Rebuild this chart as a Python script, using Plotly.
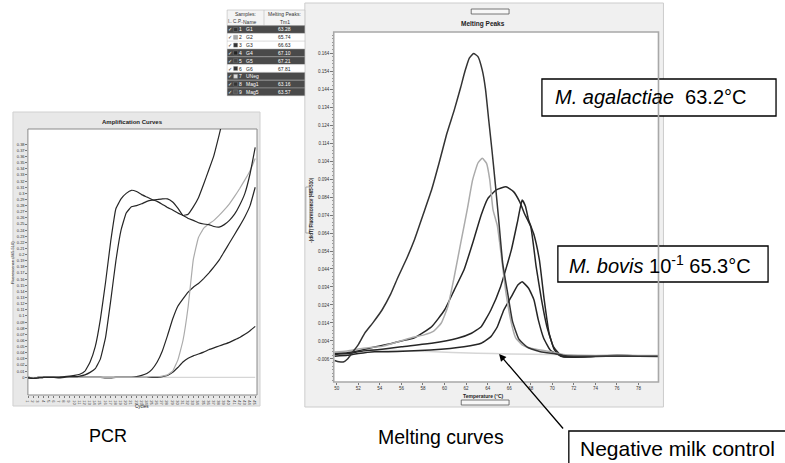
import plotly.graph_objects as go

W, H = 785, 463

# ---------------- Amplification curves (PCR) ----------------
cycles = list(range(1, 46))
amp_s1 = [-0.001, -0.002, -0.001, 0, 0, 0, 0, 0.001, 0.002, 0.003,
          0.005, 0.010, 0.025, 0.050, 0.095, 0.155, 0.222, 0.275, 0.291, 0.300,
          0.305, 0.303, 0.298, 0.294, 0.290, 0.287, 0.282, 0.277, 0.273, 0.268,
          0.264, 0.259, 0.256, 0.252, 0.250, 0.249, 0.246, 0.245, 0.249, 0.256,
          0.266, 0.281, 0.300, 0.332, 0.375]
amp_s2 = [-0.001, -0.002, -0.001, 0, 0, 0, 0, 0, 0.001, 0.001,
          0.002, 0.004, 0.008, 0.014, 0.030, 0.065, 0.125, 0.190, 0.240, 0.268,
          0.278, 0.280, 0.283, 0.287, 0.289, 0.290, 0.291, 0.291, 0.286, 0.276,
          0.264, 0.266, 0.278, 0.293, 0.315, 0.338, 0.362, 0.395, 0.430]
amp_s3 = [0, -0.001, 0, 0, 0, 0, -0.001, 0, 0, 0,
          0, 0, 0, 0, 0, -0.001, -0.001, 0, 0, 0,
          0, 0.001, 0.003, 0.006, 0.013, 0.025, 0.043, 0.068, 0.095, 0.116,
          0.128, 0.139, 0.147, 0.153, 0.161, 0.170, 0.180, 0.191, 0.205, 0.219,
          0.233, 0.247, 0.262, 0.280, 0.310]
amp_gray = [0, -0.001, 0, 0, 0, 0, 0, 0, 0, 0,
            0, 0, 0, 0, 0, 0, 0, 0, 0, 0,
            0, 0, 0, 0, 0.001, 0.001, 0.002, 0.004, 0.010, 0.028,
            0.060, 0.115, 0.192, 0.228, 0.243, 0.250, 0.256, 0.264, 0.273, 0.283,
            0.295, 0.308, 0.322, 0.337, 0.357]
amp_s4 = [0, -0.001, 0, 0, 0, 0, 0, 0, 0, 0,
          0, 0, 0, 0, 0, 0, 0, 0, 0, 0,
          0, 0, 0, 0, 0, 0, 0.001, 0.003, 0.008, 0.016,
          0.025, 0.031, 0.035, 0.038, 0.041, 0.045, 0.048, 0.051, 0.054, 0.057,
          0.061, 0.065, 0.070, 0.076, 0.083]
amp_neg = [0.0] * 45

amp_ytick_text = ["0", "0.01", "0.02", "0.03", "0.04", "0.05", "0.06", "0.07", "0.08", "0.09",
                  "0.1", "0.11", "0.12", "0.13", "0.14", "0.15", "0.16", "0.17", "0.18", "0.19",
                  "0.2", "0.21", "0.22", "0.23", "0.24", "0.25", "0.26", "0.27", "0.28", "0.29",
                  "0.3", "0.31", "0.32", "0.33", "0.34", "0.35", "0.36", "0.37", "0.38"]

# ---------------- Melting peaks ----------------
temp_a = [49.8, 50.2, 50.6, 51.0, 51.5, 52.0, 52.6, 53.4, 54.2, 55.0, 55.7, 56.5, 57.2, 58.0,
          58.8, 59.5, 60.2, 60.9, 61.5, 61.9, 62.3, 62.7, 63.1, 63.5, 63.8, 64.1, 64.4, 64.7,
          65.0, 65.4, 65.9, 66.3, 66.9, 67.7, 68.9, 70.4, 71.0, 72.0, 74.0, 76.0, 78.0, 79.9]
melt_a = [-0.0068, -0.0075, -0.0077, -0.0060, -0.0020, 0.0020, 0.0084, 0.0145, 0.0212, 0.0300,
          0.0397, 0.0500, 0.0601, 0.0740, 0.0880, 0.1030, 0.1190, 0.1323, 0.1450, 0.1540,
          0.1612, 0.1638, 0.1620, 0.1545, 0.1440, 0.1268, 0.1100, 0.0920, 0.0730, 0.0470,
          0.0290, 0.0150, 0.0050, 0.0005, -0.0020, -0.0032, -0.0040, -0.0045, -0.0045,
          -0.0043, -0.0045, -0.0045]

temp_b = [49.8, 51.0, 52.0, 53.0, 54.2, 55.7, 57.2, 58.1, 59.0, 59.7, 60.3, 60.9, 61.5, 62.1,
          62.6, 63.1, 63.5, 63.9, 64.2, 64.5, 64.9, 65.2, 65.7, 66.2, 66.6, 67.2, 68.0, 69.8,
          71.0, 72.0, 74.0, 76.0, 78.0, 79.9]
melt_b = [-0.0022, -0.0015, -0.0005, 0.0003, 0.0010, 0.0036, 0.0062, 0.0074, 0.0095, 0.0140,
          0.0230, 0.0397, 0.0584, 0.0768, 0.0934, 0.1029, 0.1055, 0.1027, 0.0934, 0.0768,
          0.0680, 0.0546, 0.0307, 0.0140, 0.0057, 0.0018, 0.0000, -0.0019, -0.0035, -0.0040,
          -0.0042, -0.0040, -0.0042, -0.0042]

temp_c = [49.8, 51.0, 52.0, 53.0, 54.0, 55.0, 56.0, 57.2, 58.8, 60.0, 60.9, 61.8, 62.7, 63.4,
          64.0, 64.8, 65.7, 66.4, 67.0, 67.4, 68.0, 68.5, 69.0, 69.5, 70.1, 70.6, 71.0, 72.0,
          74.0, 76.0, 78.0, 79.9]
melt_c = [-0.0030, -0.0025, -0.0015, 0.0000, 0.0012, 0.0025, 0.0040, 0.0057, 0.0119, 0.0212,
          0.0323, 0.0434, 0.0601, 0.0740, 0.0830, 0.0880, 0.0897, 0.0870, 0.0810, 0.0750,
          0.0675, 0.0453, 0.0268, 0.0119, 0.0008, -0.0028, -0.0045, -0.0048, -0.0045, -0.0042,
          -0.0044, -0.0045]

temp_d = [49.8, 51.0, 52.5, 54.2, 56.0, 58.8, 61.2, 62.5, 63.4, 64.3, 65.2, 66.2, 66.8, 67.2,
          67.5, 67.8, 68.3, 68.8, 69.25, 69.7, 70.2, 70.8, 72.0, 74.0, 76.0, 78.0, 79.9]
melt_d = [-0.0035, -0.0030, -0.0015, -0.0006, 0.0008, 0.0027, 0.0055, 0.0083, 0.0119, 0.0212,
          0.0342, 0.0546, 0.0712, 0.0823, 0.0790, 0.0712, 0.0630, 0.0490, 0.0268, 0.0083,
          -0.0010, -0.0045, -0.0048, -0.0045, -0.0040, -0.0043, -0.0045]

temp_f = [49.8, 51.0, 52.0, 53.5, 55.6, 58.7, 61.8, 63.4, 64.3, 64.9, 65.5, 66.2, 66.8, 67.2,
          67.8, 68.3, 68.7, 69.2, 69.8, 70.4, 71.0, 72.0, 74.0, 76.0, 78.0, 79.9]
melt_f = [-0.0045, -0.0040, -0.0030, -0.0020, -0.0019, -0.0010, 0.0008, 0.0027, 0.0064, 0.0119,
          0.0212, 0.0286, 0.0351, 0.0369, 0.0333, 0.0268, 0.0157, 0.0055, -0.0010, -0.0032,
          -0.0048, -0.0050, -0.0046, -0.0044, -0.0045, -0.0046]

temp_neg = [49.8, 54.0, 58.5, 63.0, 66.0, 70.0, 74.0, 79.9]
melt_neg = [-0.0020, -0.0010, -0.0019, -0.0028, -0.0032, -0.0035, -0.0040, -0.0040]

melt_xtick_vals = [50, 52, 54, 56, 58, 60, 62, 64, 66, 68, 70, 72, 74, 76, 78]
melt_ytick_text = ["-0.006", "0.004", "0.014", "0.024", "0.034", "0.044", "0.054", "0.064",
                   "0.074", "0.084", "0.094", "0.104", "0.114", "0.124", "0.134", "0.144",
                   "0.154", "0.164"]

# ---------------- Sample table ----------------
sample_num = ["1", "2", "3", "4", "5", "6", "7", "8", "9"]
sample_name = ["G1", "G2", "G3", "G4", "G5", "G6", "UNeg", "Mag1", "Mag5"]
sample_tm = ["63.28", "65.74", "66.63", "67.10", "67.21", "67.81", "", "63.16", "63.57"]
sample_sel = [True, False, False, True, True, False, True, True, True]
sample_swatch = ["#333333", "#aaaaaa", "#333333", "#222222", "#444444", "#333333",
                 "#dddddd", "#333333", "#555555"]

DARK = "#262626"
GRAY = "#ababab"
NEG = "#d6d6d6"
FONT = "Liberation Sans, Arial, sans-serif"


def X(px):
    return px / W


def Y(py):
    return 1 - py / H


fig = go.Figure()

amp_series = [(amp_neg, NEG), (amp_s4, DARK), (amp_s3, DARK),
              (amp_gray, GRAY), (amp_s1, DARK), (amp_s2, DARK)]
for vals, col in amp_series:
    fig.add_trace(go.Scatter(x=cycles[:len(vals)], y=vals, mode="lines",
                             line=dict(color=col, width=1.2, shape="spline", smoothing=0.3),
                             xaxis="x", yaxis="y", hoverinfo="skip"))

melt_series = [(temp_neg, melt_neg, NEG), (temp_f, melt_f, DARK), (temp_d, melt_d, DARK),
               (temp_c, melt_c, DARK), (temp_b, melt_b, GRAY), (temp_a, melt_a, "#333333")]
for tx, ty, col in melt_series:
    fig.add_trace(go.Scatter(x=tx, y=ty, mode="lines",
                             line=dict(color=col, width=1.5, shape="spline", smoothing=0.4),
                             xaxis="x2", yaxis="y2", hoverinfo="skip"))

amp_tickfont = dict(family=FONT, size=4, color="#333")
melt_tickfont = dict(family=FONT, size=4.5, color="#333")
fig.update_layout(
    width=W, height=H, margin=dict(l=0, r=0, t=0, b=0),
    paper_bgcolor="white", plot_bgcolor="rgba(0,0,0,0)", showlegend=False,
    font=dict(family=FONT),
    xaxis=dict(domain=[X(25), X(255)], range=[0.95, 45.35], anchor="y",
               tickvals=cycles, ticktext=[str(c) for c in cycles], tickfont=amp_tickfont,
               ticks="outside", ticklen=1.5, tickcolor="#777", showgrid=False,
               zeroline=False, showline=False, fixedrange=True),
    yaxis=dict(domain=[Y(395), Y(129)], range=[-0.0289, 0.405], anchor="x",
               tickvals=[float(t) for t in amp_ytick_text], ticktext=amp_ytick_text,
               tickfont=amp_tickfont, ticks="outside", ticklen=1.5, tickcolor="#777",
               showgrid=False, zeroline=False, showline=False, fixedrange=True),
    xaxis2=dict(domain=[X(332), X(658)], range=[49.72, 79.85], anchor="y2",
                tickvals=melt_xtick_vals, ticktext=[str(v) for v in melt_xtick_vals],
                tickfont=melt_tickfont, ticks="outside",
                ticklen=1.5, tickcolor="#777", showgrid=False, zeroline=False,
                showline=False, fixedrange=True),
    yaxis2=dict(domain=[Y(382), Y(32)], range=[-0.0188, 0.1757], anchor="x2",
                tickvals=[float(t) for t in melt_ytick_text], ticktext=melt_ytick_text,
                tickfont=melt_tickfont, ticks="outside",
                ticklen=2.5, tickcolor="#777",
                minor=dict(ticks="outside", ticklen=1.2, dtick=0.002, tick0=-0.006,
                           tickcolor="#999"),
                showgrid=False, zeroline=False, showline=False, fixedrange=True),
)

shapes = []


def rect(x0, y0, x1, y1, fill=None, line=None, lw=1, layer="above"):
    shapes.append(dict(type="rect", xref="paper", yref="paper",
                       x0=X(x0), x1=X(x1), y0=Y(y1), y1=Y(y0),
                       fillcolor=fill if fill else "rgba(0,0,0,0)",
                       line=dict(color=line if line else "rgba(0,0,0,0)", width=lw if line else 0),
                       layer=layer))


rect(10, 112, 258, 406, fill="#e8e8e8", line="#d0d0d0", layer="below")
rect(25, 129, 255, 395, fill="white", line="#8a8a8a", lw=1, layer="below")
rect(303, 3, 663, 407, fill="#f0f0f0", line="#cccccc", layer="below")
rect(332, 32, 658, 382, fill="white", layer="below")

rect(470, 9, 508, 14, fill="#f7f7f7", line="#555", lw=0.8)
rect(460, 400, 508, 405, fill="#f7f7f7", line="#555", lw=0.8)
rect(304, 187, 308, 233, fill="#f7f7f7", line="#777", lw=0.6)

annotations = []


def text(x, y, s, size, color="black", anchor="center", bold=False, angle=0, family=FONT):
    if not s:
        return
    annotations.append(dict(xref="paper", yref="paper", x=X(x), y=Y(y),
                            text=("<b>%s</b>" % s) if bold else s, showarrow=False,
                            xanchor=anchor, yanchor="middle", textangle=angle,
                            font=dict(family=family, size=size, color=color)))


row_h = 7.8
head_top = 10
rect(225, head_top, 303, head_top + 2 * row_h, fill="#f4f4f4", line="#bbbbbb", lw=0.6)
shapes.append(dict(type="line", xref="paper", yref="paper", x0=X(262), x1=X(262),
                   y0=Y(head_top + 2 * row_h + 9 * row_h), y1=Y(head_top),
                   line=dict(color="#bbbbbb", width=0.6)))
text(243, head_top + row_h / 2, "Samples:", 5, "#333")
text(283, head_top + row_h / 2, "Melting Peaks:", 5, "#333")
text(228, head_top + 1.5 * row_h, "I..", 4.5, "#333")
text(233.5, head_top + 1.5 * row_h, "C..", 4.5, "#333")
text(238.5, head_top + 1.5 * row_h, "P..", 4.5, "#333")
text(248, head_top + 1.5 * row_h, "Name", 5, "#333")
text(283, head_top + 1.5 * row_h, "Tm1", 5, "#333")
for i in range(len(sample_num)):
    y0 = head_top + (2 + i) * row_h
    yc = y0 + row_h / 2
    sel = sample_sel[i]
    rect(225, y0, 303, y0 + row_h, fill="#4a4a4a" if sel else "white",
         line="#bbbbbb", lw=0.4)
    tc = "white" if sel else "#222"
    text(228, yc, "✓", 5, tc, family="DejaVu Sans")
    rect(231.5, yc - 2, 235.5, yc + 2, fill=sample_swatch[i], line="#888", lw=0.4)
    text(238.5, yc, sample_num[i], 5, tc)
    text(242, yc, sample_name[i], 5, tc, anchor="left")
    text(283, yc, sample_tm[i], 5, tc)

rect(541, 79, 776, 116, fill="white", line="black", lw=1.3)
rect(557, 246, 768, 282, fill="white", line="black", lw=1.3)
rect(568, 431, 786, 466, fill="white", line="black", lw=1.3)

rect(332, 32, 658, 382, line="#a8a8a8", lw=1.6)

text(130, 122, "Amplification Curves", 6, "#222", bold=True)
text(482, 24, "Melting Peaks", 6.5, "#222", bold=True)
text(140, 406, "Cycles", 4.5, "#222")
text(482, 396, "Temperature (°C)", 5, "#222", bold=True)
text(9, 262, "Fluorescence (465-510)", 4, "#222", angle=-90)
text(309, 210, "-(d/dT) Fluorescence (465-510)", 4.5, "#222", bold=True, angle=-90)

text(552, 97.5, "<i>M. agalactiae</i>  63.2°C", 20, anchor="left")
text(566, 264, "<i>M. bovis</i> 10<sup>-1</sup> 65.3°C", 20, anchor="left")
text(577, 448, "Negative milk control", 21, anchor="left")
text(105, 436, "PCR", 18)
text(440, 437, "Melting curves", 19.5)

annotations.append(dict(xref="paper", yref="paper", x=X(498), y=Y(354), ax=67, ay=78,
                        text=" ", showarrow=True, arrowhead=2, arrowsize=1.1,
                        arrowwidth=1.3, arrowcolor="black"))

fig.update_layout(shapes=shapes, annotations=annotations)
fig.write_html("out.html", config={"displayModeBar": False},
               post_script="document.body.style.margin='0';document.body.style.padding='0';")
